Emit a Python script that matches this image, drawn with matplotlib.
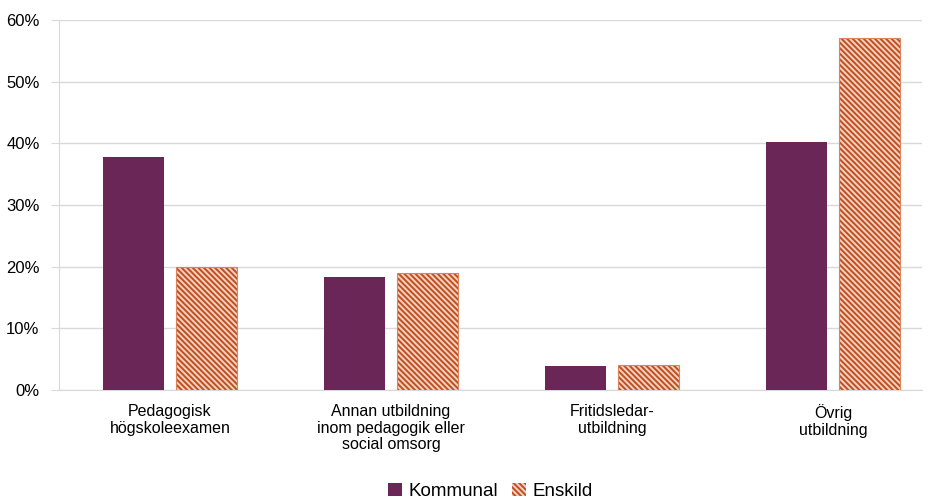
import matplotlib
matplotlib.use("Agg")
import matplotlib.pyplot as plt
import numpy as np
from matplotlib.ticker import FuncFormatter

plt.rcParams['font.family'] = ['Liberation Sans', 'DejaVu Sans']
plt.rcParams['hatch.color'] = '#F3D2C2'
plt.rcParams['hatch.linewidth'] = 1.4

categories = ["Pedagogisk\nhögskoleexamen",
              "Annan utbildning\ninom pedagogik eller\nsocial omsorg",
              "Fritidsledar-\nutbildning",
              "Övrig\nutbildning"]
kommunal = [37.8, 18.3, 3.9, 40.2]
enskild = [20.0, 19.0, 4.1, 57.1]
yticks = [0, 10, 20, 30, 40, 50, 60]

fig = plt.figure(figsize=(9.32, 5.0), dpi=100)
ax = fig.add_axes([59/932, 1-390/500, (922-59)/932, 370/500])

x = np.arange(len(categories))
w = 0.276
off = 0.164
ax.bar(x - off, kommunal, w, color='#6A2657', label='Kommunal', zorder=3)
ax.bar(x + off, enskild, w, color='#C24F1F', edgecolor='#F3D2C2', hatch='\\\\\\\\\\\\',
       linewidth=0, label='Enskild', zorder=3)
ax.bar(x + off, enskild, w, facecolor='none', edgecolor='#D9835F', linewidth=0.8, zorder=4)

ax.set_xlim(-0.502, 3.403)
ax.set_ylim(0, 60)
ax.set_yticks(yticks)
ax.yaxis.set_major_formatter(FuncFormatter(lambda v, p: f"{int(v)}%"))
ax.yaxis.grid(True, color='#D9D9D9', linewidth=1, zorder=0)
ax.set_xticks(x)
ax.set_xticklabels(categories, fontsize=11.5, color='#000000', linespacing=1.15)
ax.tick_params(axis='x', length=0, pad=10)
ax.tick_params(axis='y', length=6, color='#D9D9D9', labelsize=12, pad=8)
for s in ['top', 'right']:
    ax.spines[s].set_visible(False)
ax.spines['left'].set_color('#D9D9D9')
ax.spines['bottom'].set_color('#D9D9D9')

leg = fig.legend(loc='lower center', bbox_to_anchor=(0.526, -0.034), ncol=2, frameon=False,
                 fontsize=13.5, handlelength=0.75, handleheight=0.75, handletextpad=0.35,
                 columnspacing=0.75)

fig.savefig("out.png", dpi=100)
